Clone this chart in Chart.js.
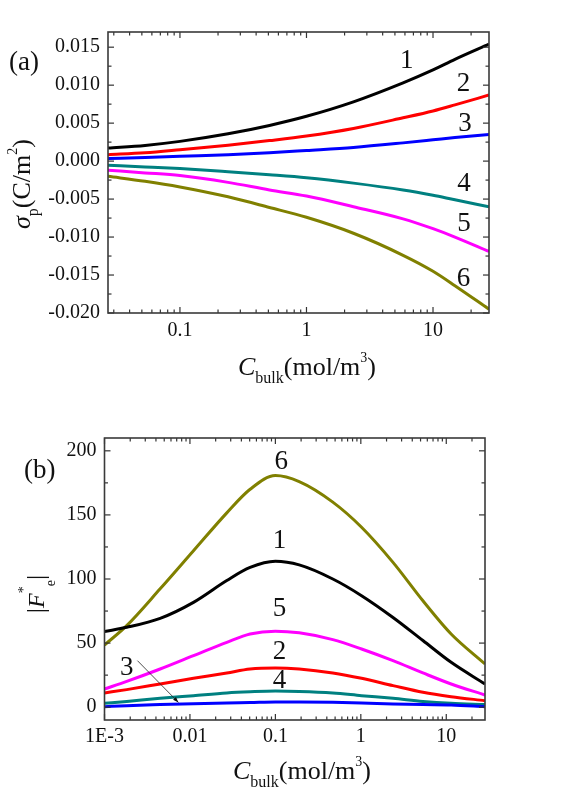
<!DOCTYPE html>
<html><head><meta charset="utf-8">
<script src="https://cdn.jsdelivr.net/npm/chart.js@4.4.1/dist/chart.umd.min.js"></script>
<style>
html,body{margin:0;padding:0;background:#fff;width:569px;height:792px;overflow:hidden}
#ca{position:absolute;left:0;top:0}
#cb{position:absolute;left:0;top:400px}
</style></head><body>
<canvas id="ca" width="569" height="400"></canvas>
<canvas id="cb" width="569" height="392"></canvas>
<script>
// ---------- Panel (a) data ----------
const xA = [0.027, 0.053, 0.1, 0.24, 0.51, 1, 2.35, 5.8, 10, 14.9, 27.7];
const a1 = [0.00173, 0.00207, 0.0026, 0.0036, 0.0047, 0.0059, 0.0078, 0.0103, 0.0120, 0.0134, 0.0154];
const a2 = [0.00085, 0.0011, 0.0015, 0.0021, 0.0027, 0.0033, 0.0043, 0.0057, 0.0066, 0.0074, 0.0087];
const a3 = [0.00033, 0.00046, 0.00063, 0.00085, 0.0011, 0.0014, 0.0018, 0.0024, 0.0028, 0.0031, 0.0035];
const a4 = [-0.00055, -0.00076, -0.00098, -0.0014, -0.0018, -0.0022, -0.0029, -0.0038, -0.0045, -0.0051, -0.0060];
const a5 = [-0.0012, -0.00155, -0.0019, -0.0028, -0.0038, -0.0046, -0.0060, -0.0076, -0.0089, -0.0100, -0.0119];
const a6 = [-0.0020, -0.00265, -0.0034, -0.0047, -0.0061, -0.0074, -0.0095, -0.0124, -0.0145, -0.0164, -0.0195];
const xTicksA = [0.1, 1, 10];
const xTickLabelsA = ['0.1', '1', '10'];
const yTicksA = [-0.020, -0.015, -0.010, -0.005, 0.000, 0.005, 0.010, 0.015];
const yTickLabelsA = ['-0.020', '-0.015', '-0.010', '-0.005', '0.000', '0.005', '0.010', '0.015'];
const curveLabelsA = ['1', '2', '3', '4', '5', '6'];
const curveLabelXA = [6.2, 17.4, 17.9, 17.6, 17.6, 17.4];
const curveLabelYA = [0.0132, 0.0101, 0.0049, -0.0030, -0.0083, -0.0155];

// ---------- Panel (b) data ----------
const xB = [0.001, 0.00182, 0.00448, 0.011, 0.027, 0.0506, 0.1, 0.19, 0.47, 1.02, 2.38, 5.33, 11.4, 28.4];
const b1 = [59, 62.3, 69.3, 81.8, 98.8, 109, 113.8, 111, 100, 87, 70, 52, 35, 18.1];
const b2 = [11.1, 13.7, 18.1, 22.5, 26.7, 29.8, 30.6, 29.8, 26.7, 22.5, 16.8, 11.6, 8.2, 5.1];
const b3 = [0.4, 1.2, 2, 2.7, 3.3, 3.6, 4, 4, 3.8, 3.3, 2.5, 2, 1.7, 0.4];
const b4 = [3, 4.5, 6.9, 9, 11.1, 12, 12.6, 12.3, 11.1, 9, 6.9, 4.5, 3, 2];
const b5 = [14.2, 20.1, 29.8, 40.2, 50.6, 57.1, 59.3, 58, 52.7, 45.4, 36.3, 26.7, 18.1, 9.5];
const b6 = [48.5, 63.6, 92.3, 122, 151.6, 170, 180.7, 176, 160, 140.4, 113, 83, 57.1, 33.7];
const xTicksB = [0.001, 0.01, 0.1, 1, 10];
const xTickLabelsB = ['1E-3', '0.01', '0.1', '1', '10'];
const yTicksB = [0, 50, 100, 150, 200];
const yTickLabelsB = ['0', '50', '100', '150', '200'];
const curveLabelsB = ['1', '2', '3', '4', '5', '6'];
const curveLabelXB = [0.112, 0.112, 0.00182, 0.112, 0.112, 0.117];
const curveLabelYB = [130, 42.8, 31, 20.7, 76.7, 191];
const arrowB = {x1: 0.00243, y1: 36.3, x2: 0.00734, y2: 3.7};

const colors = ['#000000', '#ff0000', '#0000ff', '#008080', '#ff00ff', '#808000'];
const SERIF = '"Liberation Serif", "Times New Roman", serif';
Chart.defaults.font.family = SERIF;
Chart.defaults.color = '#111';

function pts(xs, ys) { return xs.map((x, i) => ({x: x, y: ys[i]})); }
function mkSets(xs, list) {
  return list.map((ys, i) => ({
    data: pts(xs, ys), borderColor: colors[i], borderWidth: 3,
    pointRadius: 0, fill: false, cubicInterpolationMode: 'monotone'
  }));
}
function seg(ctx, x1, y1, x2, y2) { ctx.beginPath(); ctx.moveTo(x1, y1); ctx.lineTo(x2, y2); ctx.stroke(); }
function logMinor(min, max) {
  const out = [];
  for (let d = Math.floor(Math.log10(min)); d <= Math.ceil(Math.log10(max)); d++)
    for (let k = 2; k <= 9; k++) { const v = k * Math.pow(10, d); if (v >= min && v <= max) out.push(v); }
  return out;
}
function midMinor(m) { const o = []; for (let i = 0; i < m.length - 1; i++) o.push((m[i] + m[i + 1]) / 2); return o; }
function rich(ctx, parts, cx, cy, rot) {
  ctx.save(); ctx.translate(cx, cy); if (rot) ctx.rotate(-Math.PI / 2);
  let w = 0;
  parts.forEach(p => { ctx.font = p.f; p.w = ctx.measureText(p.t).width; w += p.w; });
  let x = -w / 2; ctx.textBaseline = 'alphabetic'; ctx.textAlign = 'left'; ctx.fillStyle = '#111';
  parts.forEach(p => { ctx.font = p.f; ctx.fillText(p.t, x, p.dy || 0); x += p.w; });
  ctx.restore();
}

const deco = {
  id: 'deco',
  afterDatasetsDraw(chart, args, o) {
    const ctx = chart.ctx, a = chart.chartArea, sx = chart.scales.x, sy = chart.scales.y;
    ctx.save();
    ctx.strokeStyle = '#333'; ctx.lineWidth = 1.2;
    const M = 6, m = 3.5;
    o.xMajor.forEach(v => { const p = sx.getPixelForValue(v); seg(ctx, p, a.bottom, p, a.bottom - M); seg(ctx, p, a.top, p, a.top + M); });
    logMinor(sx.min, sx.max).forEach(v => { const p = sx.getPixelForValue(v); seg(ctx, p, a.bottom, p, a.bottom - m); seg(ctx, p, a.top, p, a.top + m); });
    o.yMajor.forEach(v => { const p = sy.getPixelForValue(v); seg(ctx, a.left, p, a.left + M, p); seg(ctx, a.right, p, a.right - M, p); });
    midMinor(o.yMajor).forEach(v => { const p = sy.getPixelForValue(v); seg(ctx, a.left, p, a.left + m, p); seg(ctx, a.right, p, a.right - m, p); });
    ctx.lineWidth = 1.6; ctx.strokeStyle = '#3a3a3a';
    ctx.strokeRect(a.left, a.top, a.right - a.left, a.bottom - a.top);
    // curve labels
    ctx.fillStyle = '#111'; ctx.font = '27px ' + SERIF; ctx.textAlign = 'center'; ctx.textBaseline = 'middle';
    o.labels.forEach((t, i) => ctx.fillText(t, sx.getPixelForValue(o.lx[i]), sy.getPixelForValue(o.ly[i])));
    if (o.arrow) {
      const x1 = sx.getPixelForValue(o.arrow.x1), y1 = sy.getPixelForValue(o.arrow.y1);
      const x2 = sx.getPixelForValue(o.arrow.x2), y2 = sy.getPixelForValue(o.arrow.y2);
      ctx.strokeStyle = '#222'; ctx.lineWidth = 0.8; seg(ctx, x1, y1, x2, y2);
      const ang = Math.atan2(y2 - y1, x2 - x1), L = 6;
      ctx.fillStyle = '#111'; ctx.beginPath(); ctx.moveTo(x2, y2);
      ctx.lineTo(x2 - L * Math.cos(ang - 0.35), y2 - L * Math.sin(ang - 0.35));
      ctx.lineTo(x2 - L * Math.cos(ang + 0.35), y2 - L * Math.sin(ang + 0.35));
      ctx.closePath(); ctx.fill();
    }
    // panel tag
    ctx.font = '27px ' + SERIF; ctx.textAlign = 'left'; ctx.textBaseline = 'alphabetic'; ctx.fillStyle = '#111';
    ctx.fillText(o.tag, o.tagX, o.tagY);
    // axis titles
    rich(ctx, o.xTitle, o.xTitlePos[0], o.xTitlePos[1], false);
    rich(ctx, o.yTitle, o.yTitlePos[0], o.yTitlePos[1], true);
    ctx.restore();
  }
};

const F26 = '26px ' + SERIF, I26 = 'italic 26px ' + SERIF, F16 = '16px ' + SERIF, F14 = '14px ' + SERIF;
const xTitleParts = () => [
  {t: 'C', f: I26}, {t: 'bulk', f: F16, dy: 8}, {t: '(mol/m', f: F26}, {t: '3', f: F14, dy: -13}, {t: ')', f: F26}
];

function mkChart(id, cfg) {
  return new Chart(document.getElementById(id), {
    type: 'line',
    data: {datasets: mkSets(cfg.xs, cfg.series)},
    plugins: [deco],
    options: {
      responsive: false, animation: false, devicePixelRatio: 1,
      layout: {padding: cfg.pad},
      plugins: {legend: {display: false}, tooltip: {enabled: false}, deco: cfg.deco},
      scales: {
        x: {
          type: 'logarithmic', min: cfg.xmin, max: cfg.xmax,
          grid: {display: false, drawTicks: false}, border: {display: false},
          afterBuildTicks: s => { s.ticks = cfg.xTicks.map(v => ({value: v})); },
          afterFit: s => { s.height = cfg.xH; },
          ticks: {font: {size: 20}, color: '#111', padding: cfg.xPad, maxRotation: 0, autoSkip: false,
                  callback: (v, i) => cfg.xLabels[i]}
        },
        y: {
          type: 'linear', min: cfg.ymin, max: cfg.ymax,
          grid: {display: false, drawTicks: false}, border: {display: false},
          afterBuildTicks: s => { s.ticks = cfg.yTicks.map(v => ({value: v})); },
          afterFit: s => { s.width = cfg.yW; },
          ticks: {font: {size: 20}, color: '#111', padding: 8, autoSkip: false,
                  callback: (v, i) => cfg.yLabels[i]}
        }
      }
    }
  });
}

mkChart('ca', {
  xs: xA, series: [a1, a2, a3, a4, a5, a6],
  xmin: 0.027, xmax: 27.7, ymin: -0.020, ymax: 0.017,
  xTicks: xTicksA, xLabels: xTickLabelsA, yTicks: yTicksA, yLabels: yTickLabelsA,
  pad: {left: 0, top: 32, right: 80, bottom: 0}, xH: 87, yW: 108, xPad: 6,
  deco: {
    xMajor: xTicksA, yMajor: yTicksA, labels: curveLabelsA, lx: curveLabelXA, ly: curveLabelYA,
    tag: '(a)', tagX: 9, tagY: 70,
    xTitle: xTitleParts(), xTitlePos: [307, 375],
    yTitle: [{t: 'σ', f: I26}, {t: 'p', f: F16, dy: 8}, {t: '(C/m', f: F26}, {t: '2', f: F14, dy: -13}, {t: ')', f: F26}],
    yTitlePos: [30, 184]
  }
});

mkChart('cb', {
  xs: xB, series: [b1, b2, b3, b4, b5, b6],
  xmin: 0.001, xmax: 28.4, ymin: -10, ymax: 210,
  xTicks: xTicksB, xLabels: xTickLabelsB, yTicks: yTicksB, yLabels: yTickLabelsB,
  pad: {left: 0, top: 38, right: 84, bottom: 0}, xH: 72, yW: 104.5, xPad: 4.5,
  deco: {
    xMajor: xTicksB, yMajor: yTicksB, labels: curveLabelsB, lx: curveLabelXB, ly: curveLabelYB,
    arrow: arrowB,
    tag: '(b)', tagX: 24, tagY: 78,
    xTitle: xTitleParts(), xTitlePos: [302, 379],
    yTitle: [{t: '|', f: '26px ' + SERIF}, {t: 'F', f: 'italic 24px ' + SERIF}, {t: '*', f: '14px ' + SERIF, dy: -16},
             {t: 'e', f: '14px ' + SERIF, dy: 11}, {t: '|', f: '26px ' + SERIF}],
    yTitlePos: [44, 194]
  }
});
</script>
</body></html>
